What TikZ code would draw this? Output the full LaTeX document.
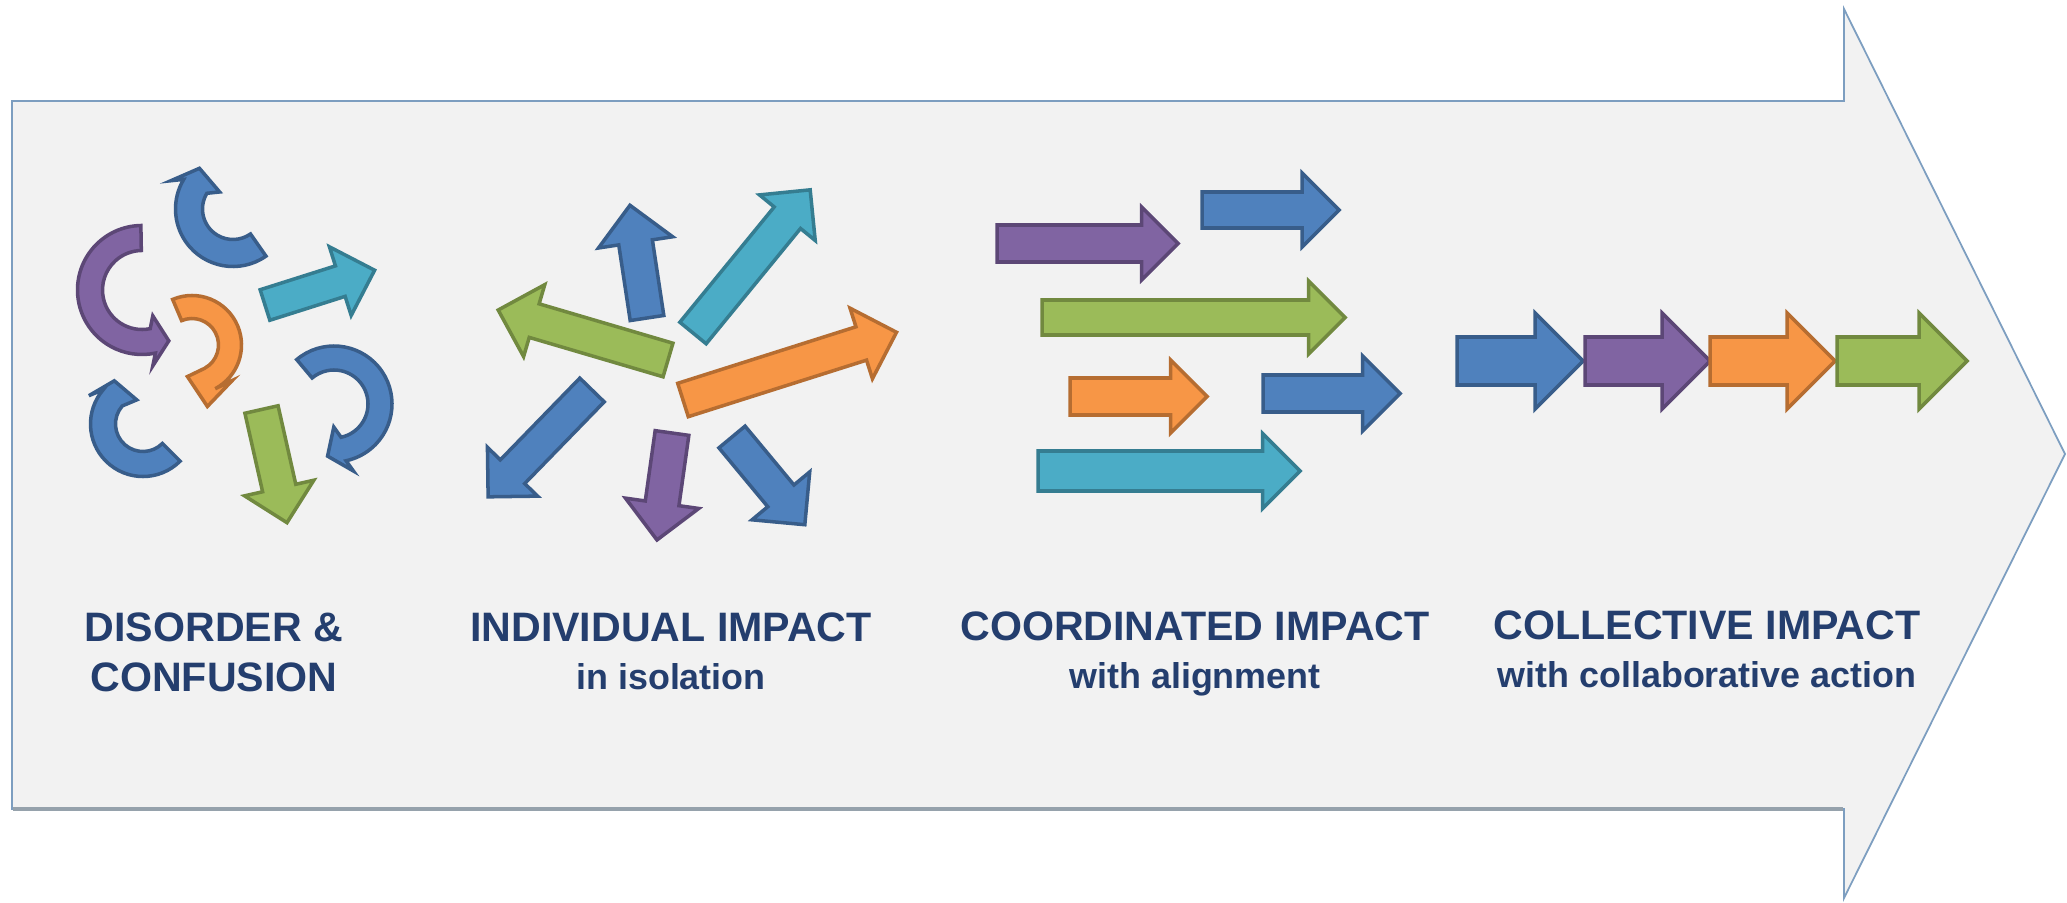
\documentclass[tikz,border=0pt]{standalone}
\usepackage{fontspec}
\setmainfont{Liberation Sans}
\usetikzlibrary{positioning}
\definecolor{canvas}{RGB}{242,242,242}
\definecolor{rim}{RGB}{125,158,192}
\definecolor{rimshade}{RGB}{150,162,172}
\definecolor{ink}{RGB}{36,62,110}
\definecolor{cblue}{RGB}{79,129,189}
\definecolor{cbluedark}{RGB}{56,93,138}
\definecolor{cpurple}{RGB}{128,100,162}
\definecolor{cpurpledark}{RGB}{92,71,118}
\definecolor{corange}{RGB}{247,150,70}
\definecolor{corangedark}{RGB}{182,109,49}
\definecolor{cgreen}{RGB}{155,187,89}
\definecolor{cgreendark}{RGB}{113,137,63}
\definecolor{ccyan}{RGB}{75,172,198}
\definecolor{ccyandark}{RGB}{53,125,145}
\tikzset{
    bigarrow/.style={fill=canvas, draw=rim, line width=0.5pt},
    blue block/.style={fill=cblue, draw=cbluedark, line width=1pt},
    purple block/.style={fill=cpurple, draw=cpurpledark, line width=1pt},
    orange block/.style={fill=corange, draw=corangedark, line width=1pt},
    green block/.style={fill=cgreen, draw=cgreendark, line width=1pt},
    cyan block/.style={fill=ccyan, draw=ccyandark, line width=1pt},
    title/.style={font=\bfseries\fontsize{11.7}{14}\selectfont, text=ink, inner sep=0pt},
    subtitle/.style={font=\bfseries\fontsize{10.2}{12}\selectfont, text=ink, inner sep=0pt},
    % style, angle, length, body half width, head half width
    pics/straight/.style n args={5}{code={
        \draw[#1, rotate=#2] (0,-#4) -- (#3-#5,-#4) -- (#3-#5,-#5) -- (#3,0)
            -- (#3-#5,#5) -- (#3-#5,#4) -- (0,#4) -- cycle;
    }},
    % style, radius, start, end, body half, head half, head length, head direction, sense
    pics/bent/.style n args={9}{code={
        \draw[#1] ({#3}:{#2+#5}) arc[start angle=#3, end angle=#4, radius=#2+#5]
            -- ([shift={({#4}:{#2})}] {#8-90*#9}:{#6})
            -- ([shift={({#4}:{#2})}] {#8}:{#7})
            -- ([shift={({#4}:{#2})}] {#8+90*#9}:{#6})
            -- ({#4}:{#2-#5}) arc[start angle=#4, end angle=#3, radius=#2-#5] -- cycle;
    }},
}
\begin{document}
\begin{tikzpicture}[x=0.01cm, y=0.01cm, line join=miter]
    \useasboundingbox (0,0) rectangle (2067,902);

    \draw[bigarrow] (12,93) -- (1844,93) -- (1844,4) -- (2065,448) -- (1844,893)
        -- (1844,801) -- (12,801) -- cycle;
    \draw[rimshade, line width=1.2pt] (13,93) -- (1843,93);

    \pic (d1) at (233,693) {bent={blue block}{44}{-55}{-211}{13.5}{25}{18.5}{77}{-1}};
    \pic (d2) at (142,612) {bent={purple block}{52}{91}{282}{12.5}{25}{16}{0}{1}};
    \pic (d3) at (192,557) {bent={orange block}{38}{113}{-62}{11.5}{22.5}{28}{-95}{-1}};
    \pic (d4) at (334,498) {bent={blue block}{46}{130}{-78}{12}{24}{17.5}{204}{-1}};
    \pic (d5) at (143,478) {bent={blue block}{40}{-45}{-221}{12.5}{24}{17}{85}{-1}};
    \pic (d6) at (265,597) {straight={cyan block}{17.6}{115}{16}{36}};
    \pic (d7) at (261.5,492.5) {straight={green block}{-77.3}{116}{17}{35.5}};

    \pic (i1) at (647,584) {straight={blue block}{98.6}{114}{17}{37.5}};
    \pic (i2) at (693,569) {straight={cyan block}{50.7}{185}{17}{36}};
    \pic (i3) at (668,542) {straight={green block}{163.6}{177}{17.5}{37.5}};
    \pic (i4) at (683,502) {straight={orange block}{17.6}{224}{17.5}{37}};
    \pic (i5) at (592,512) {straight={blue block}{-134.2}{149}{17}{35}};
    \pic (i6) at (672,469) {straight={purple block}{-98}{108}{17}{37}};
    \pic (i7) at (732,465) {straight={blue block}{-50.3}{114}{17}{37.5}};

    \pic (c1) at (997,658.5) {straight={purple block}{0}{181}{18.5}{36.5}};
    \pic (c2) at (1202,692) {straight={blue block}{0}{137}{18}{37}};
    \pic (c3) at (1042,584.5) {straight={green block}{0}{303}{17.5}{36.5}};
    \pic (c4) at (1070,505.5) {straight={orange block}{0}{137}{18.5}{36.5}};
    \pic (c5) at (1263,508.5) {straight={blue block}{0}{137}{18.5}{37.5}};
    \pic (c6) at (1038,431) {straight={cyan block}{0}{262}{20}{37.5}};

    \pic (k1) at (1457,541) {straight={blue block}{0}{126}{24}{48}};
    \pic (k2) at (1585,541) {straight={purple block}{0}{125}{24}{48}};
    \pic (k3) at (1710,541) {straight={orange block}{0}{125}{24}{48}};
    \pic (k4) at (1837,541) {straight={green block}{0}{130}{24}{48}};

    \node[title, anchor=base] (disorder) at (214,261) {DISORDER \&};
    \node[title, below=0.2cm of disorder] (confusion) {CONFUSION};
    \node[title, anchor=base] (individual) at (671,261) {INDIVIDUAL IMPACT};
    \node[subtitle, below=0.21cm of individual] (isolation) {in isolation};
    \node[title, anchor=base] (coordinated) at (1195,262) {COORDINATED IMPACT};
    \node[subtitle, below=0.21cm of coordinated] (alignment) {with alignment};
    \node[title, anchor=base] (collective) at (1707,263) {COLLECTIVE IMPACT};
    \node[subtitle, below=0.21cm of collective] (action) {with collaborative action};
\end{tikzpicture}
\end{document}
